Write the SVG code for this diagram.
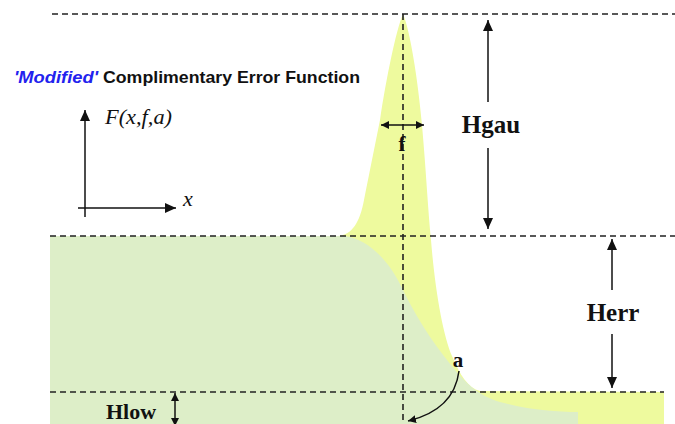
<svg xmlns="http://www.w3.org/2000/svg" width="675" height="424" viewBox="0 0 675 424">
<style>
.dash{stroke:#222;stroke-width:1.6;stroke-dasharray:6 4;fill:none}
.arr{stroke:#111;stroke-width:1.5;fill:none}
.lbl{font-family:"Liberation Serif","Times New Roman",serif;font-weight:bold;fill:#111}
.it{font-family:"Liberation Serif","Times New Roman",serif;font-style:italic;fill:#111}
.title{font-family:"Liberation Sans",Arial,sans-serif;font-weight:bold;font-size:17px}
</style>
<defs>
<marker id="ah" markerUnits="userSpaceOnUse" markerWidth="12" markerHeight="10" refX="11" refY="5" orient="auto-start-reverse"><path d="M0,0 L11,5 L0,10 Z" fill="#111"/></marker>
<marker id="ahs" markerUnits="userSpaceOnUse" markerWidth="9" markerHeight="8" refX="8" refY="4" orient="auto-start-reverse"><path d="M0,0 L8,4 L0,8 Z" fill="#111"/></marker>
</defs>
<rect width="675" height="424" fill="#ffffff"/>
<g id="fills">
<path d="M50,236 L338,236 C352,235 360,222 364,200 C370,170 376,140 380,120 C386,80 396,30 403,14 C410,30 418,80 422,125 C426,170 428,210 431,240 C435,290 443,335 452,356 C460,375 468,388 480,391 L664,392 L664,424 L50,424 Z" fill="#eefa9e"/>
<path d="M50,236 L345,236 C370,240 390,262 403,290 C420,325 440,352 455,370 C468,385 478,395 500,402 C530,410 555,412 578,412 L578,424 L50,424 Z" fill="#ddeec8"/>
</g>
<g id="connectors">
<line class="dash" x1="52" y1="14" x2="675" y2="14"/>
<line class="dash" x1="50" y1="236" x2="675" y2="236"/>
<line class="dash" x1="50" y1="392" x2="664" y2="392"/>
<line class="dash" x1="403" y1="14" x2="403" y2="424"/>
<line class="arr" x1="488" y1="102" x2="488" y2="20" marker-end="url(#ah)"/>
<line class="arr" x1="488" y1="148" x2="488" y2="229" marker-end="url(#ah)"/>
<line class="arr" x1="612" y1="290" x2="612" y2="239" marker-end="url(#ah)"/>
<line class="arr" x1="612" y1="334" x2="612" y2="388" marker-end="url(#ah)"/>
<line class="arr" x1="175" y1="393" x2="175" y2="426" marker-start="url(#ahs)" marker-end="url(#ahs)"/>
<line class="arr" x1="381" y1="125" x2="424" y2="125" marker-start="url(#ahs)" marker-end="url(#ahs)"/>
<path class="arr" d="M459,371 Q454,410 408,421" marker-end="url(#ahs)"/>
</g>
<g id="axes">
<line class="arr" x1="85" y1="217" x2="85" y2="110" marker-end="url(#ah)"/>
<line class="arr" x1="78" y1="208" x2="176" y2="208" marker-end="url(#ah)"/>
<text class="it" x="105" y="124" font-size="20" textLength="67" lengthAdjust="spacingAndGlyphs">F(x,f,a)</text>
<text class="it" x="183" y="206" font-size="22">x</text>
</g>
<g id="title">
<text class="title" x="14" y="83"><tspan fill="#2222ee" font-style="italic" textLength="84" lengthAdjust="spacingAndGlyphs">'Modified'</tspan><tspan fill="#111" x="103" textLength="257" lengthAdjust="spacingAndGlyphs">Complimentary Error Function</tspan></text>
</g>
<g id="labels">
<text class="lbl" x="491" y="133" font-size="25" text-anchor="middle">Hgau</text>
<text class="lbl" x="613" y="321" font-size="25" text-anchor="middle">Herr</text>
<text class="lbl" x="131" y="419" font-size="22" text-anchor="middle">Hlow</text>
<text class="lbl" x="402" y="151" font-size="21" text-anchor="middle">f</text>
<text class="lbl" x="458" y="367" font-size="21" text-anchor="middle">a</text>
</g>
</svg>
